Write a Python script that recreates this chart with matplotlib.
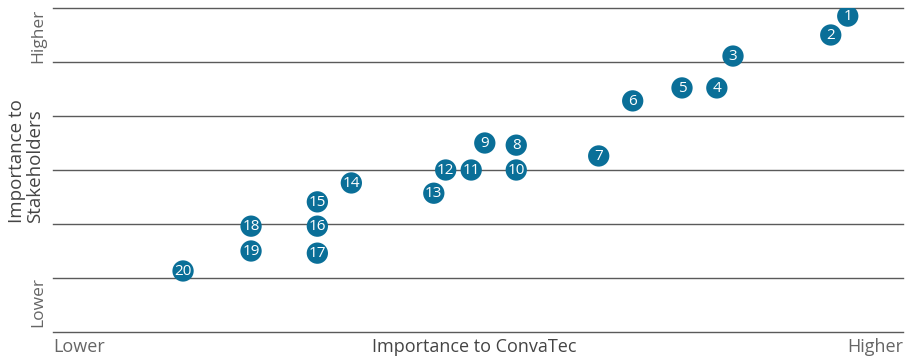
import numpy as np
import matplotlib
matplotlib.use('Agg')
import matplotlib.pyplot as plt

plt.rcParams['font.family'] = ['Open Sans', 'DejaVu Sans']

# issue numbers and their positions on the matrix
labels = [str(i) for i in range(1, 21)]
x_convatec = [9.35, 9.15, 8.0, 7.81, 7.4, 6.82, 6.42, 5.45, 5.08, 5.45,
              4.92, 4.62, 4.48, 3.51, 3.11, 3.11, 3.11, 2.33, 2.33, 1.53]
y_stakeholders = [5.85, 5.5, 5.11, 4.52, 4.52, 4.28, 3.26, 3.46, 3.5, 3.0,
                  3.0, 3.0, 2.57, 2.76, 2.41, 1.96, 1.46, 1.96, 1.5, 1.13]
grid_levels = [0, 1, 2, 3, 4, 5, 6]

fig = plt.figure(figsize=(9.17, 3.59), dpi=100)
ax = fig.add_axes([53/917, 27/359, 850/917, 324/359])
ax.set_xlim(0, 10)
ax.set_ylim(0, 6)

for g in grid_levels:
    ax.axhline(g, color='#5a5a5a', lw=1.0, zorder=1, clip_on=False)

ax.scatter(x_convatec, y_stakeholders, s=235, color='#0a6f98', zorder=3, edgecolors='none')
for xi, yi, lab in zip(x_convatec, y_stakeholders, labels):
    ax.text(xi, yi - 0.01, lab, color='white', ha='center', va='center', fontsize=11, zorder=4)

for s in ax.spines.values():
    s.set_visible(False)
ax.set_xticks([])
ax.set_yticks([])

# axis captions
fig.text(53/917, 1 - 347/359, 'Lower', ha='left', va='center', fontsize=13, color='#666666')
fig.text(903/917, 1 - 347/359, 'Higher', ha='right', va='center', fontsize=13, color='#666666')
fig.text(474/917, 1 - 347/359, 'Importance to ConvaTec', ha='center', va='center', fontsize=13, color='#444444')
fig.text(38/917, 1 - 36/359, 'Higher', rotation=90, ha='center', va='center', fontsize=12.5, color='#666666')
fig.text(38/917, 1 - 302/359, 'Lower', rotation=90, ha='center', va='center', fontsize=12.5, color='#666666')
fig.text(26/917, 1 - 223/359, 'Importance to\nStakeholders', rotation=90, ha='center', va='bottom',
         multialignment='left', fontsize=13.5, color='#444444', linespacing=0.95)

fig.savefig('out.png', dpi=100)
